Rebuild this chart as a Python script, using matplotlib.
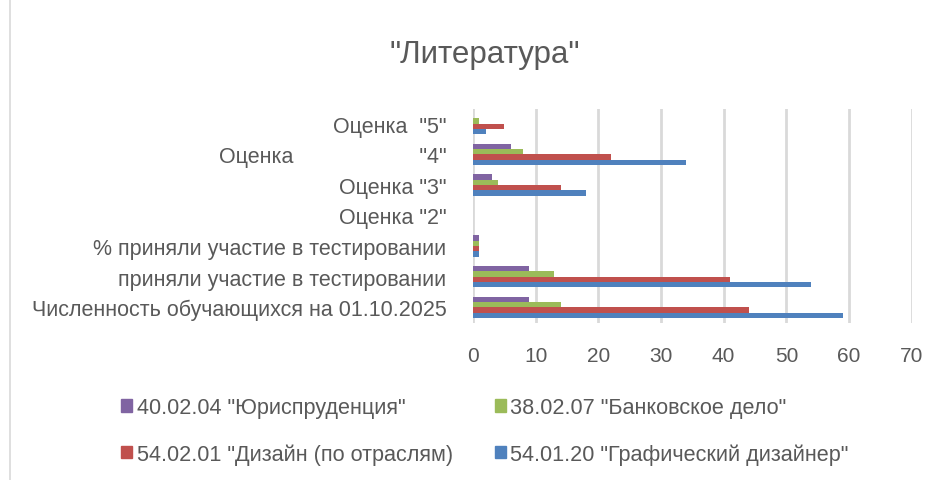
import numpy as np
import matplotlib.pyplot as plt
from matplotlib.patches import Patch

plt.rcParams['font.family'] = ['Liberation Sans', 'DejaVu Sans']

# категории (снизу вверх, как в Excel)
categories = ['Численность обучающихся на 01.10.2025',
              'приняли участие в тестировании',
              '% приняли участие в тестировании',
              'Оценка "2"',
              'Оценка "3"',
              'Оценка' + ' ' * 21 + '"4"',
              'Оценка  "5"']

series_names = ['54.01.20 "Графический дизайнер"',
                '54.02.01 "Дизайн (по отраслям)',
                '38.02.07 "Банковское дело"',
                '40.02.04 "Юриспруденция"']
grafdiz = [59, 54, 0.92, 0, 18, 34, 2]
dizain = [44, 41, 0.93, 0, 14, 22, 5]
bank = [14, 13, 0.93, 0, 4, 8, 1]
jurist = [9, 9, 1.0, 0, 3, 6, 0]
colors = ['#4f81bd', '#c0504d', '#9bbb59', '#8064a2']

txt = '#595959'

fig = plt.figure(figsize=(9.45, 4.81), dpi=100)
ax = fig.add_axes([473/945, 1-323.5/481, (911.7-473)/945, (323.5-109.5)/481])

y = np.arange(len(categories))
h = 0.175
data = [grafdiz, dizain, bank, jurist]
for i, (vals, col) in enumerate(zip(data, colors)):
    ax.barh(y + (i - 1.5) * h, vals, height=h, color=col, zorder=3)

ax.set_xlim(0, 70)
ax.set_ylim(-0.5, len(categories) - 0.5)
ax.set_xticks(range(0, 71, 10))
ax.set_yticks(y)
ax.set_yticklabels(categories, fontsize=15.5, color=txt)
ax.tick_params(axis='x', labelsize=15, colors=txt, length=0, pad=17)
ax.tick_params(axis='y', length=0, pad=19)
ax.grid(axis='x', color='#d9d9d9', linewidth=2, zorder=0)
for s in ax.spines.values():
    s.set_visible(False)

fig.text(485/945, 1-55/481, '"Литература"', ha='center', va='center',
         fontsize=22.5, color=txt)

# граница области диаграммы слева
fig.add_artist(plt.Line2D([10/945, 10/945], [0, 1], color='#d9d9d9', lw=1.2))

handles = [Patch(color=c) for c in colors]
order = [3, 1, 2, 0]
fig.legend([handles[i] for i in order], [series_names[i] for i in order],
           ncol=2, loc='center left', bbox_to_anchor=(102/945, 1-432/481),
           frameon=False, fontsize=15.6, labelcolor=txt,
           handlelength=0.5, handleheight=0.5, handletextpad=0.2,
           labelspacing=1.15, columnspacing=1.95)

fig.savefig('out.png', dpi=100)
